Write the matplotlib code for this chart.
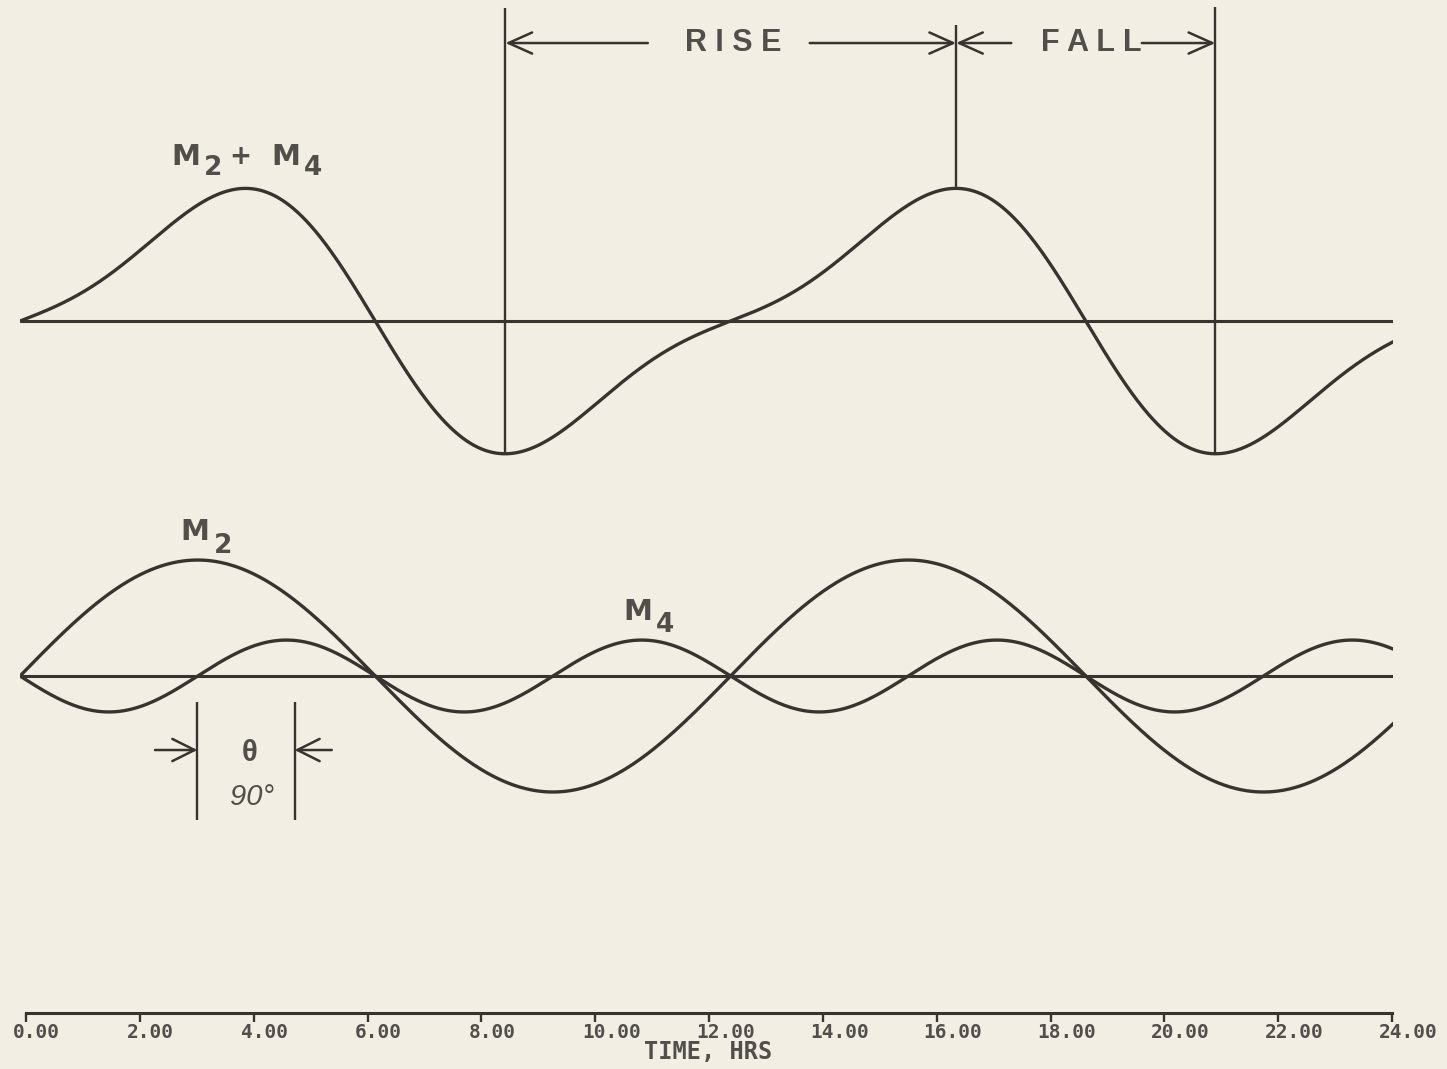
import numpy as np
import matplotlib.pyplot as plt
from matplotlib import transforms

# tidal constituents (hours, relative amplitude, phase in degrees)
m2_period = 12.42
m4_period = 6.21
m2_amp = 1.0
m4_amp = 0.31
m2_phase = -90.0
m4_phase = 90.0   # theta

hour_ticks = [0, 2, 4, 6, 8, 10, 12, 14, 16, 18, 20, 22, 24]
tick_labels = ['%.2f' % h for h in hour_ticks]

plt.rcParams['font.family'] = ['Liberation Sans', 'DejaVu Sans']

paper = '#f2eee3'
ink = '#38332f'
text_ink = '#524e49'

fig = plt.figure(figsize=(14.47, 10.69), dpi=100, facecolor=paper)

# curves
ax = fig.add_axes([20 / 1447, 0, 1373 / 1447, 1])
ax.set_xlim(0, 24)
ax.set_ylim(-3.388, 5.828)
ax.axis('off')

t = np.linspace(0, 24, 1500)
m2 = m2_amp * np.cos(2 * np.pi * t / m2_period + np.radians(m2_phase))
m4 = m4_amp * np.cos(2 * np.pi * t / m4_period + np.radians(m4_phase))
tide = m2 + m4
upper = 3.06

ax.hlines([0, upper], t[0], t[-1], color=ink, lw=2.2)
ax.plot(t, m2, color=ink, lw=2.4)
ax.plot(t, m4, color=ink, lw=2.4)
ax.plot(t, tide + upper, color=ink, lw=2.4)

# low / high / low of the combined tide
first_low = np.argmin(np.where(t < 12, tide, np.inf))
high = np.argmax(np.where(t > 12, tide, -np.inf))
second_low = np.argmin(np.where(t > 12, tide, np.inf))
for i, top in [(first_low, 5.76), (high, 5.61), (second_low, 5.77)]:
    ax.vlines(t[i], tide[i] + upper, top, color=ink, lw=1.7)

arrow = dict(arrowstyle='->,head_length=0.85,head_width=0.38', color=ink,
             lw=1.8, mutation_scale=20, shrinkA=0, shrinkB=0)
ya = 5.457
t_low1, t_high, t_low2 = t[first_low], t[high], t[second_low]
mid_rise = (t_low1 + t_high) / 2
mid_fall = (t_high + t_low2) / 2
ax.annotate('', xy=(t_low1, ya), xytext=(mid_rise - 1.45, ya), arrowprops=arrow)
ax.annotate('', xy=(t_high, ya), xytext=(mid_rise + 1.38, ya), arrowprops=arrow)
ax.text(mid_rise + 0.05, ya, 'R I S E', fontsize=22, fontweight='bold',
        color=text_ink, ha='center', va='center')
ax.annotate('', xy=(t_high, ya), xytext=(mid_fall - 1.3, ya), arrowprops=arrow)
ax.annotate('', xy=(t_low2, ya), xytext=(mid_fall + 0.98, ya), arrowprops=arrow)
ax.text(mid_fall + 0.1, ya, 'F A L L', fontsize=22, fontweight='bold',
        color=text_ink, ha='center', va='center')


# labels with large, low subscripts (offsets in points)
def label(x, y, pieces):
    for s, dx, dy, size in pieces:
        ax.annotate(s, xy=(x, y), xytext=(dx, dy), textcoords='offset points',
                    fontsize=size, fontweight='bold', color=text_ink,
                    family='DejaVu Sans', ha='left', va='baseline')


label(2.64, 4.405, [('M', 0, 0, 21), ('2', 24, -7, 19), ('+', 42, 1, 19),
                    ('M', 72, 0, 21), ('4', 96, -7, 19)])
label(2.80, 1.172, [('M', 0, 0, 21), ('2', 24, -9, 19)])
label(10.54, 0.483, [('M', 0, 0, 21), ('4', 24, -9, 19)])

# phase lag theta
ax.vlines([3.1, 4.8], -1.241, -0.224, color=ink, lw=1.7)
small = dict(arrowstyle='->,head_length=0.8,head_width=0.4', color=ink,
             lw=1.8, mutation_scale=20, shrinkA=0, shrinkB=0)
ax.annotate('', xy=(3.1, -0.638), xytext=(2.36, -0.638), arrowprops=small)
ax.annotate('', xy=(4.8, -0.638), xytext=(5.45, -0.638), arrowprops=small)
ax.text(4.02, -0.66, '\u03b8', fontsize=21, fontweight='bold', color=text_ink,
        ha='center', va='center')
ax.text(4.06, -1.04, '90\u00b0', fontsize=21, style='italic', color=text_ink,
        ha='center', va='center')

# time axis
axt = fig.add_axes([26 / 1447, (1069 - 1013) / 1069, 1366 / 1447, 0.01])
axt.set_facecolor('none')
axt.set_xlim(0, 24)
for side in ['top', 'left', 'right']:
    axt.spines[side].set_visible(False)
axt.spines['bottom'].set_color(ink)
axt.spines['bottom'].set_linewidth(2.2)
axt.set_yticks([])
axt.set_xticks(hour_ticks)
axt.set_xticklabels(tick_labels, fontfamily='DejaVu Sans Mono',
                    fontweight='bold', fontsize=14, color=text_ink, ha='left')
axt.tick_params(axis='x', direction='out', length=6.5, width=1.7,
                color=ink, pad=1)
shift = transforms.ScaledTranslation(-13 / 100, 0, fig.dpi_scale_trans)
for lab in axt.get_xticklabels():
    lab.set_transform(lab.get_transform() + shift)

fig.text(708 / 1447, 1 - 1052 / 1069, 'TIME, HRS', fontfamily='DejaVu Sans Mono',
         fontweight='bold', fontsize=17, color=text_ink, ha='center', va='center')

fig.savefig('out.png', dpi=100, facecolor=paper)
